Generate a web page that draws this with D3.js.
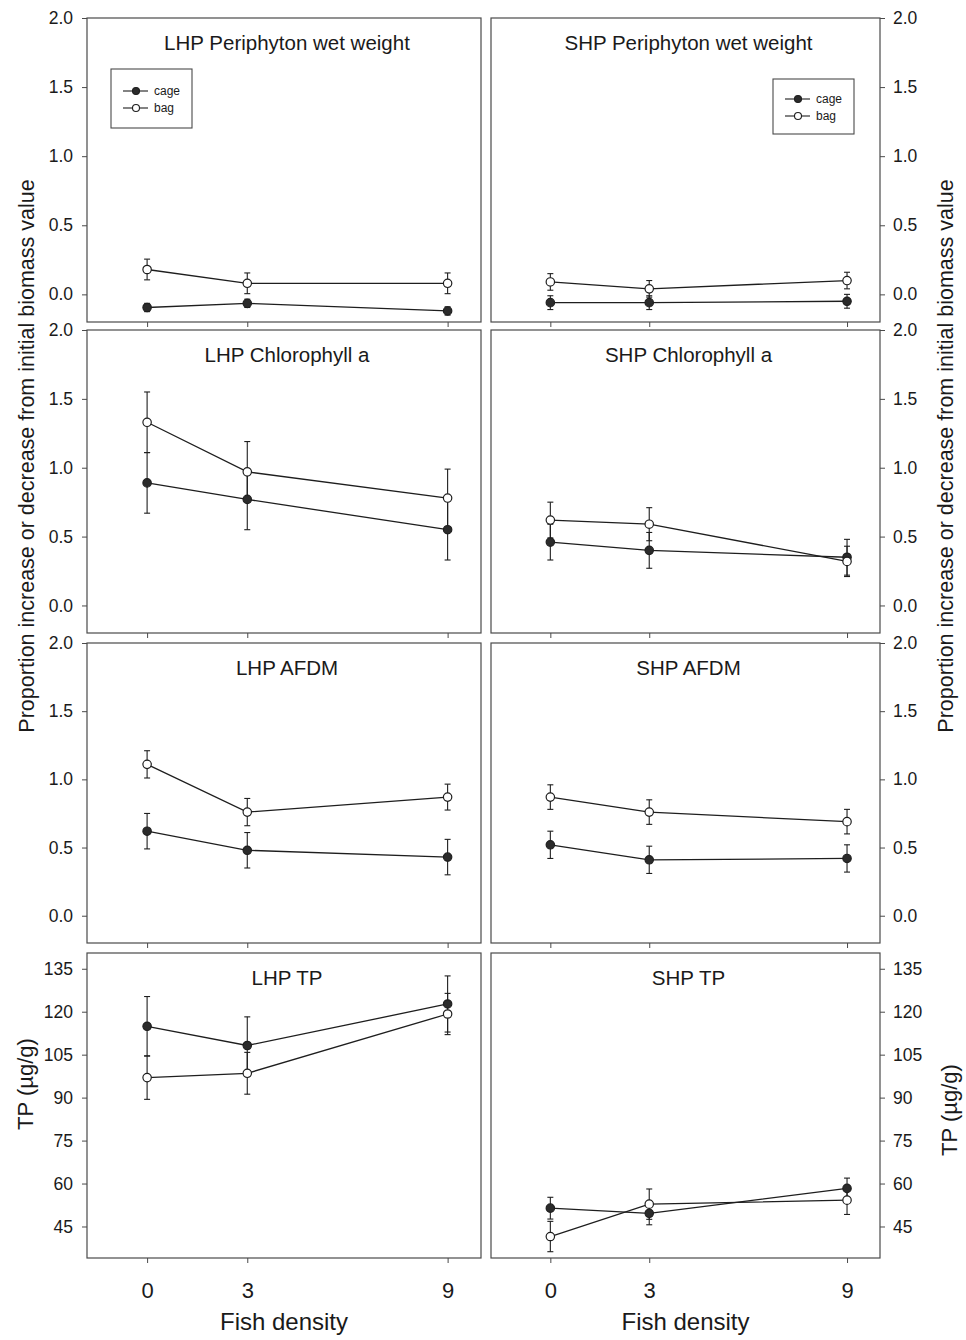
<!DOCTYPE html>
<html>
<head>
<meta charset="utf-8">
<script src="https://cdn.jsdelivr.net/npm/d3@7"></script>
<style>
  html, body { margin: 0; padding: 0; background: #fff; }
  svg { display: block; }
  text { font-family: "Liberation Sans", Arial, Helvetica, sans-serif; fill: #1a1a1a; }
</style>
</head>
<body>
<svg id="chart" width="966" height="1340"></svg>
<script>
// ---------------- data ----------------
const fishDensity = [0, 3, 9];
const xTickLabels = ["0", "3", "9"];
const seriesNames = ["cage", "bag"];

// panels in row-major order
const panelTitles = [
  "LHP Periphyton wet weight", "SHP Periphyton wet weight",
  "LHP Chlorophyll a", "SHP Chlorophyll a",
  "LHP AFDM", "SHP AFDM",
  "LHP TP", "SHP TP"
];

const cageMeans = [
  [-0.095, -0.065, -0.12],
  [-0.06, -0.06, -0.05],
  [0.89, 0.77, 0.55],
  [0.46, 0.40, 0.35],
  [0.62, 0.48, 0.43],
  [0.52, 0.41, 0.42],
  [114.9, 108.2, 122.7],
  [51.4, 49.6, 58.3]
];
const cageErr = [
  [0.03, 0.03, 0.03],
  [0.05, 0.05, 0.05],
  [0.22, 0.22, 0.22],
  [0.13, 0.13, 0.13],
  [0.13, 0.13, 0.13],
  [0.10, 0.10, 0.10],
  [10.4, 10.0, 9.8],
  [3.8, 4.0, 3.6]
];
const bagMeans = [
  [0.18, 0.08, 0.08],
  [0.09, 0.04, 0.10],
  [1.33, 0.97, 0.78],
  [0.62, 0.59, 0.32],
  [1.11, 0.76, 0.87],
  [0.87, 0.76, 0.69],
  [97.0, 98.5, 119.2],
  [41.5, 52.8, 54.2]
];
const bagErr = [
  [0.075, 0.075, 0.075],
  [0.06, 0.06, 0.06],
  [0.22, 0.22, 0.21],
  [0.13, 0.12, 0.11],
  [0.10, 0.10, 0.095],
  [0.09, 0.09, 0.09],
  [7.6, 7.3, 7.2],
  [5.3, 5.3, 5.0]
];

const propTicks = [0, 0.5, 1.0, 1.5, 2.0];
const tpTicks = [45, 60, 75, 90, 105, 120, 135];
const propTitle = "Proportion increase or decrease from initial biomass value";
const tpTitle = "TP (\u00b5g/g)";
const xTitle = "Fish density";

// ---------------- layout ----------------
const colX = [87, 491];
const colW = [394, 389];
const rowY = [18, 330, 643, 953];
const rowH = [304, 303, 300, 305];
const propDomain = [-0.2, 2.0];
const tpDomain = [34, 140.5];
const xDomain = [-1.8, 10];
const ink = "#1e1e1e";
const frame = "#4a4a4a";
const font = "'Liberation Sans', Arial, Helvetica, sans-serif";

const svg = d3.select("#chart");

for (let i = 0; i < 8; i++) {
  const col = i % 2, row = Math.floor(i / 2);
  const x0 = colX[col], w = colW[col], y0 = rowY[row], h = rowH[row];
  const isTP = row === 3;
  const x = d3.scaleLinear().domain(xDomain).range([x0, x0 + w]);
  const y = d3.scaleLinear().domain(isTP ? tpDomain : propDomain).range([y0 + h, y0]);
  const g = svg.append("g");

  // frame
  g.append("rect").attr("x", x0).attr("y", y0).attr("width", w).attr("height", h)
    .attr("fill", "none").attr("stroke", frame).attr("stroke-width", 1.2);

  // y axis
  const yAxis = (col === 0 ? d3.axisLeft(y) : d3.axisRight(y))
    .tickValues(isTP ? tpTicks : propTicks)
    .tickFormat(isTP ? d3.format("d") : d3.format(".1f"))
    .tickSize(5).tickPadding(col === 0 ? 9 : 8);
  const ya = g.append("g")
    .attr("transform", `translate(${col === 0 ? x0 : x0 + w},0)`)
    .call(yAxis);
  ya.select(".domain").remove();
  ya.selectAll("line").attr("stroke", frame);
  ya.selectAll("text").attr("font-size", 17.5).attr("font-family", font).attr("fill", "#1a1a1a");

  // x axis
  const xAxis = d3.axisBottom(x).tickValues(fishDensity)
    .tickFormat((d, k) => row === 3 ? xTickLabels[k] : "")
    .tickSize(5).tickPadding(19);
  const xa = g.append("g").attr("transform", `translate(0,${y0 + h})`).call(xAxis);
  xa.select(".domain").remove();
  xa.selectAll("line").attr("stroke", frame);
  xa.selectAll("text").attr("font-size", 22).attr("font-family", font).attr("fill", "#1a1a1a");

  // title
  g.append("text").attr("x", x0 + w / 2 + 3).attr("y", y0 + 32)
    .attr("text-anchor", "middle").attr("font-size", 20.5).text(panelTitles[i]);

  const series = [
    { name: "cage", m: cageMeans[i], e: cageErr[i], fill: "#2b2b2b" },
    { name: "bag", m: bagMeans[i], e: bagErr[i], fill: "#ffffff" }
  ];
  const line = d3.line().x((d, k) => x(fishDensity[k])).y(d => y(d));

  series.forEach(s => {
    g.append("path").datum(s.m).attr("d", line)
      .attr("fill", "none").attr("stroke", ink).attr("stroke-width", 1.3);
  });
  series.forEach(s => {
    s.m.forEach((v, k) => {
      const cx = x(fishDensity[k]);
      const top = y(v + s.e[k]), bot = y(v - s.e[k]);
      g.append("line").attr("x1", cx).attr("x2", cx).attr("y1", top).attr("y2", bot)
        .attr("stroke", ink).attr("stroke-width", 1.1);
      [top, bot].forEach(yy => g.append("line")
        .attr("x1", cx - 3).attr("x2", cx + 3).attr("y1", yy).attr("y2", yy)
        .attr("stroke", ink).attr("stroke-width", 1.1));
    });
  });
  series.forEach(s => {
    g.selectAll(null).data(s.m).enter().append("circle")
      .attr("cx", (d, k) => x(fishDensity[k])).attr("cy", d => y(d))
      .attr("r", 4.2).attr("fill", s.fill).attr("stroke", ink).attr("stroke-width", 1.2);
  });

  // legend in first-row panels
  if (row === 0) {
    const lx = col === 0 ? x0 + 24 : x0 + 282;
    const ly = col === 0 ? y0 + 51 : y0 + 61;
    const lh = col === 0 ? 59 : 55;
    const lg = g.append("g").attr("transform", `translate(${lx},${ly})`);
    lg.append("rect").attr("width", 81).attr("height", lh)
      .attr("fill", "#fff").attr("stroke", frame).attr("stroke-width", 1.1);
    seriesNames.forEach((nm, k) => {
      const yy = (col === 0 ? 22 : 20) + k * 17;
      lg.append("line").attr("x1", 12).attr("x2", 37).attr("y1", yy).attr("y2", yy)
        .attr("stroke", ink).attr("stroke-width", 1.1);
      lg.append("circle").attr("cx", 25).attr("cy", yy).attr("r", 3.5)
        .attr("fill", k === 0 ? "#2b2b2b" : "#fff").attr("stroke", ink).attr("stroke-width", 1.1);
      lg.append("text").attr("x", 43).attr("y", yy + 4).attr("font-size", 12).text(nm);
    });
  }
}

// axis titles
function vText(xp, yp, txt, size) {
  svg.append("text").attr("transform", `translate(${xp},${yp}) rotate(-90)`)
    .attr("text-anchor", "middle").attr("font-size", size).text(txt);
}
vText(34, 456, propTitle, 21.5);
vText(953, 456, propTitle, 21.5);
vText(33, 1084, tpTitle, 22);
vText(957, 1110, tpTitle, 22);

[0, 1].forEach(c => {
  svg.append("text").attr("x", colX[c] + colW[c] / 2).attr("y", 1330)
    .attr("text-anchor", "middle").attr("font-size", 24).text(xTitle);
});
</script>
</body>
</html>
